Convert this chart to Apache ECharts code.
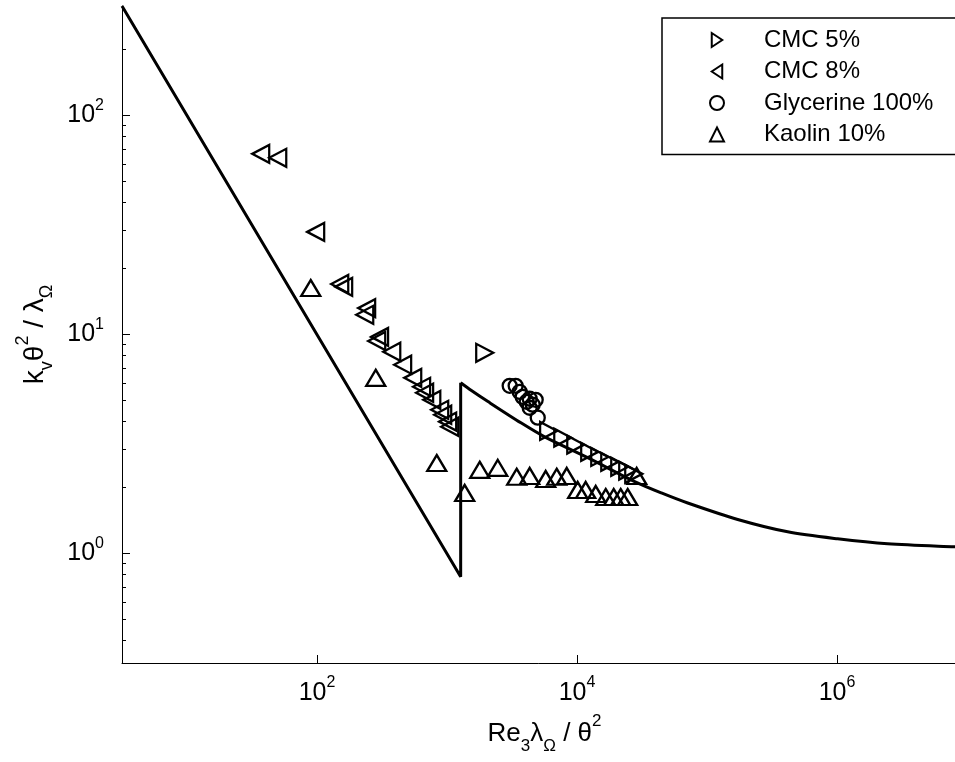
<!DOCTYPE html>
<html>
<head>
<meta charset="utf-8">
<title>kv θ² / λΩ vs Re3 λΩ / θ²</title>
<script src="https://cdn.jsdelivr.net/npm/echarts@6.0.0/dist/echarts.min.js"></script>
<style>
  html, body { margin: 0; padding: 0; background: #fff; }
  #my-chart { width: 955px; height: 762px; }
</style>
</head>
<body>
<div id="my-chart"></div>
<script>
// values (x = Re3*lambda/theta^2, y = kv*theta^2/lambda)
const cmc5 = [
  [1950, 8.25], [6050, 3.63], [7770, 3.38], [9780, 3.14], [12520, 2.91],
  [14960, 2.76], [17860, 2.62], [21320, 2.49], [24550, 2.39], [27310, 2.31]
]
const cmc8 = [
  [36.9, 66.8], [49.9, 64.1], [97.7, 29.4], [149.6, 17.0], [160.4, 16.5],
  [241, 13.2], [233, 12.3], [303, 9.75], [288, 9.34], [376, 8.34],
  [456, 7.28], [545, 6.34], [638, 5.77], [673, 5.42], [764, 5.03],
  [879, 4.53], [927, 4.30], [1012, 4.0], [1049, 3.79]
]
const glycerine = [
  [3034, 5.83], [3373, 5.83], [3622, 5.47], [3819, 5.19], [4103, 4.93],
  [4326, 5.09], [4562, 4.78], [4812, 5.03], [4326, 4.63], [4989, 4.17]
]
const kaolin = [
  [89.5, 16.3], [283, 6.34], [834, 2.59], [1368, 1.89], [1786, 2.41],
  [2457, 2.46], [3436, 2.24], [4326, 2.26], [5744, 2.19], [6982, 2.24],
  [8337, 2.26], [10120, 1.95], [11660, 1.95], [13930, 1.87], [16630, 1.81],
  [19150, 1.81], [21680, 1.81], [24540, 1.81], [28780, 2.26]
]
// model curve: laminar branch, jump, then the turbulent branch
const modelLaminar = [[3.1623, 316.2], [1274, 0.783], [1274, 6.02]]
const modelTurbulent = [
  [1274, 6.02], [1541, 5.55], [2066, 4.94], [3733, 3.94], [5636, 3.41],
  [12080, 2.74], [27790, 2.13], [44580, 1.89], [71100, 1.70], [172300, 1.43],
  [417500, 1.256], [1010000, 1.167], [2450000, 1.107], [8000000, 1.073], [10000000, 1.07]
]
const xTicks = [1e2, 1e4, 1e6]
const yTicks = [1, 10, 100]
const yMinorTicks = [0.4, 0.5, 0.6, 0.7, 0.8, 0.9, 2, 3, 4, 5, 6, 7, 8, 9, 20, 30, 40, 50, 60, 70, 80, 90, 200]

const FONT = 'Liberation Sans, Arial, sans-serif'
const powLabel = (value) => '{b|10}{s|' + Math.round(Math.log10(value)) + '}'
const powRich = {
  b: { fontFamily: FONT, fontSize: 25, color: '#000', lineHeight: 36, verticalAlign: 'middle' },
  s: { fontFamily: FONT, fontSize: 16, color: '#000', lineHeight: 14, verticalAlign: 'top' }
}
const makeNameRich = (size, small) => ({
  n: { fontFamily: FONT, fontSize: size, color: '#000', lineHeight: 42, verticalAlign: 'middle' },
  sub: { fontFamily: FONT, fontSize: small, color: '#000', lineHeight: 14, verticalAlign: 'bottom' },
  sup: { fontFamily: FONT, fontSize: small, color: '#000', lineHeight: 28, verticalAlign: 'top' }
})
const markerStyle = { color: 'rgba(0,0,0,0)', borderColor: '#000', borderWidth: 2.3, opacity: 1 }

const option = {
  backgroundColor: '#fff',
  animation: false,
  grid: { left: 122, right: -12, top: 6, bottom: 99, outerBoundsMode: 'none' },
  legend: {
    data: [
      { name: 'CMC 5%', icon: 'path://M0,0L9,6L0,12Z' },
      { name: 'CMC 8%', icon: 'path://M9,0L0,6L9,12Z' },
      { name: 'Glycerine 100%', icon: 'circle' },
      { name: 'Kaolin 10%', icon: 'triangle' }
    ],
    orient: 'vertical',
    left: 662,
    top: 18,
    padding: [10, 70, 8, 47],
    itemWidth: 14,
    itemHeight: 14,
    itemGap: 7.5,
    borderColor: '#000',
    borderWidth: 1.5,
    borderRadius: 0,
    itemStyle: { color: 'rgba(0,0,0,0)', borderColor: '#000', borderWidth: 2, opacity: 1 },
    textStyle: { fontFamily: FONT, fontSize: 24, color: '#000', lineHeight: 22, padding: [0, 0, 0, 35] }
  },
  xAxis: {
    type: 'log',
    logBase: 10,
    min: 3.1623,
    max: 1e7,
    name: '{n|Re}{sub|3}{n|λ}{sub|Ω}{n| / θ}{sup|2}',
    nameLocation: 'middle',
    nameGap: 50,
    nameTextStyle: { rich: makeNameRich(26, 17) },
    axisLine: { lineStyle: { color: '#000', width: 1 } },
    axisTick: { inside: true, length: 8, customValues: xTicks, lineStyle: { color: '#000' } },
    axisLabel: { customValues: xTicks, margin: 12, formatter: powLabel, rich: powRich },
    splitLine: { show: false },
    minorTick: { show: false }
  },
  yAxis: [
    {
      type: 'log',
      logBase: 10,
      min: 0.31623,
      max: 316.23,
      name: '{n|k}{sub|v}{n|θ}{sup|2}{n| / λ}{sub|Ω}',
      nameLocation: 'middle',
      nameGap: 65,
      nameTextStyle: { rich: makeNameRich(28, 18) },
      axisLine: { lineStyle: { color: '#000', width: 1 } },
      axisTick: { inside: true, length: 8, customValues: yTicks, lineStyle: { color: '#000' } },
      axisLabel: { customValues: yTicks, margin: 18, formatter: powLabel, rich: powRich },
      splitLine: { show: false }
    },
    {
      // minor ticks only
      type: 'log',
      logBase: 10,
      min: 0.31623,
      max: 316.23,
      position: 'left',
      axisLine: { show: false },
      axisTick: { inside: true, length: 4, customValues: yMinorTicks, lineStyle: { color: '#000' } },
      axisLabel: { show: false },
      splitLine: { show: false }
    }
  ],
  series: [
    {
      name: 'model',
      type: 'line',
      data: modelLaminar,
      showSymbol: false,
      lineStyle: { color: '#000', width: 3 },
      itemStyle: { color: '#000' },
      z: 1
    },
    {
      name: 'model2',
      type: 'line',
      data: modelTurbulent,
      smooth: 0.3,
      showSymbol: false,
      lineStyle: { color: '#000', width: 3 },
      itemStyle: { color: '#000' },
      z: 1
    },
    {
      name: 'CMC 5%',
      type: 'scatter',
      data: cmc5,
      symbol: 'triangle',
      symbolSize: [18, 17],
      symbolRotate: -90,
      itemStyle: markerStyle,
      z: 3
    },
    {
      name: 'CMC 8%',
      type: 'scatter',
      data: cmc8,
      symbol: 'triangle',
      symbolSize: [18, 17],
      symbolRotate: 90,
      itemStyle: markerStyle,
      z: 3
    },
    {
      name: 'Glycerine 100%',
      type: 'scatter',
      data: glycerine,
      symbol: 'circle',
      symbolSize: 14,
      itemStyle: markerStyle,
      z: 3
    },
    {
      name: 'Kaolin 10%',
      type: 'scatter',
      data: kaolin,
      symbol: 'triangle',
      symbolSize: [19, 16],
      itemStyle: markerStyle,
      z: 3
    }
  ]
}

const myChart = echarts.init(document.getElementById('my-chart'))
myChart.setOption(option)
window.addEventListener('resize', () => {
  myChart.resize()
})
</script>
</body>
</html>
